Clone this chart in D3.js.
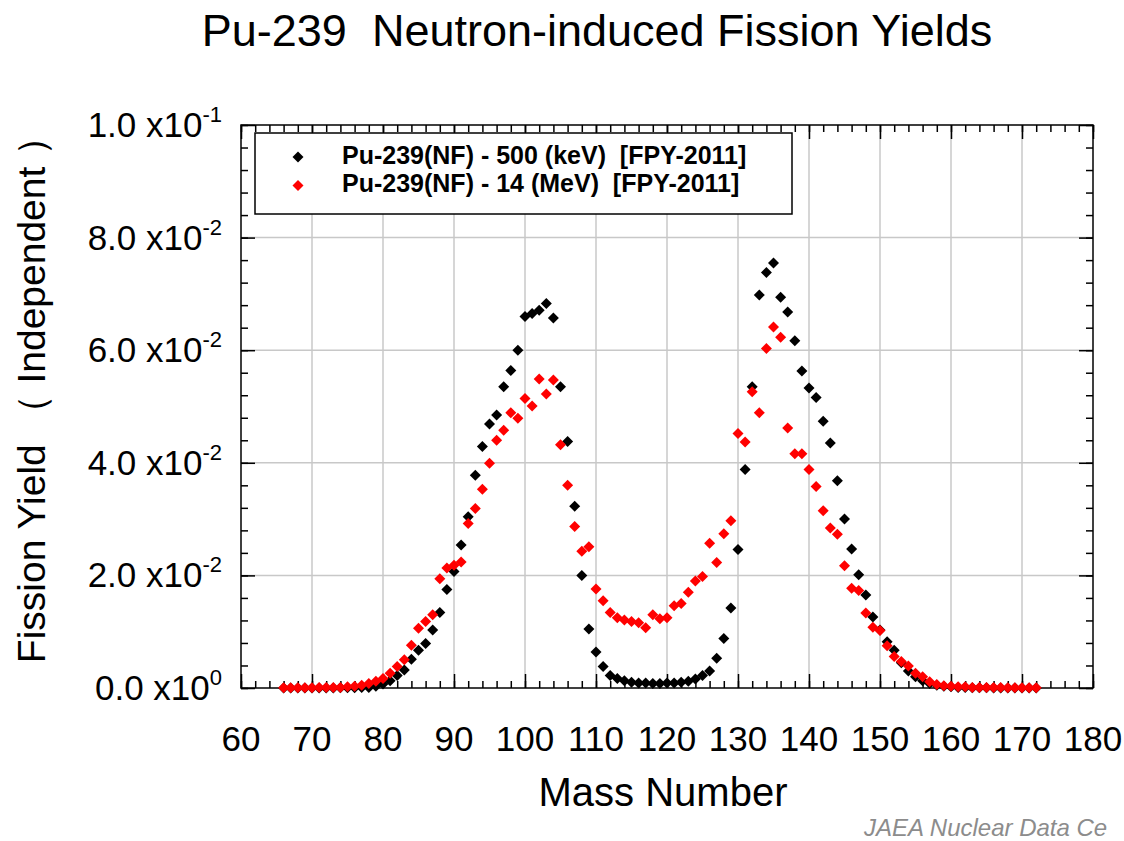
<!DOCTYPE html>
<html><head><meta charset="utf-8">
<script src="https://cdn.jsdelivr.net/npm/d3@7"></script>
<style>
html,body{margin:0;padding:0;background:#fff;overflow:hidden;}
svg{display:block;font-family:"Liberation Sans",Arial,sans-serif;}
svg text{white-space:pre;}
</style></head>
<body>
<svg id="c" width="1124" height="841"></svg>
<script>
const massStart = 66, massEnd = 172;
const massNumbers = d3.range(massStart, massEnd + 1);

// Pu-239(NF) - 500 keV, A = 66..172
const yield500keV = [
 0.00001,0.00001,0.00001,0.00001,0.00001,0.00001,0.00002,0.00002,0.00003,0.00004,0.00005,0.00007, // 66-77
 0.0001,0.0003,0.0007,0.0013,0.0022,0.0032,0.0051,0.0067,0.0079,0.0103,0.0134,0.0175, // 78-89
 0.0207,0.0254,0.0304,0.0378,0.0429,0.0469,0.0485,0.0535,0.0564,0.0600, // 90-99
 0.0660,0.0665,0.0671,0.0683,0.0657,0.0535,0.0438,0.0323,0.0200,0.0105, // 100-109
 0.0064,0.0038,0.0022,0.0017,0.0013,0.0010,0.0009,0.0009,0.0008,0.0008, // 110-119
 0.0009,0.0009,0.0010,0.0012,0.0016,0.0022,0.0030,0.0053,0.0088,0.0142, // 120-129
 0.0246,0.0388,0.0535,0.0698,0.0738,0.0755,0.0694,0.0668,0.0617,0.0563, // 130-139
 0.0533,0.0516,0.0474,0.0435,0.0368,0.0300,0.0247,0.0201,0.0165,0.0126, // 140-149
 0.0103,0.0082,0.0067,0.0045,0.0030,0.0020,0.0013,0.0008,0.0005,0.0003, // 150-159
 0.0002,0.0001,0.00008,0.00006,0.00004,0.00003,0.00002,0.00002,0.00001,0.00001,0.00001,0.00001,0.00001 // 160-172
];

// Pu-239(NF) - 14 MeV, A = 66..172
const yield14MeV = [
 0.00005,0.00005,0.00005,0.00006,0.00006,0.00007,0.00008,0.0001,0.0001,0.0002,0.0003,0.0005, // 66-77
 0.0008,0.0012,0.0017,0.0026,0.0038,0.0050,0.0076,0.0106,0.0118,0.0130,0.0194,0.0213, // 78-89
 0.0218,0.0224,0.0292,0.0319,0.0353,0.0399,0.0440,0.0458,0.0489,0.0479, // 90-99
 0.0514,0.0501,0.0549,0.0522,0.0547,0.0432,0.0360,0.0287,0.0243,0.0251, // 100-109
 0.0176,0.0155,0.0134,0.0125,0.0121,0.0118,0.0116,0.0107,0.0130,0.0123, // 110-119
 0.0125,0.0146,0.0150,0.0170,0.0190,0.0198,0.0257,0.0223,0.0274,0.0297, // 120-129
 0.0452,0.0437,0.0526,0.0489,0.0603,0.0641,0.0623,0.0462,0.0416,0.0416, // 130-139
 0.0388,0.0358,0.0315,0.0284,0.0273,0.0217,0.0177,0.0173,0.0133,0.0108, // 140-149
 0.0102,0.0075,0.0056,0.0047,0.0039,0.0026,0.0020,0.0011,0.0006,0.0004, // 150-159
 0.0003,0.0002,0.0002,0.0001,0.0001,0.0001,0.00008,0.00007,0.00006,0.00005,0.00005,0.00004,0.00004 // 160-172
];

const seriesNames = ["Pu-239(NF) - 500 (keV)  [FPY-2011]", "Pu-239(NF) - 14 (MeV)  [FPY-2011]"];
const seriesColors = ["#000000", "#ff0000"];
const xMajorTicks = d3.range(60, 181, 10);
const xMinorTicks = d3.range(60, 181, 2);
const yMajorTicks = [0, 0.02, 0.04, 0.06, 0.08, 0.1];
const yMinorTicks = d3.range(0, 0.1001, 0.004);
const yTickMantissa = ["0.0", "2.0", "4.0", "6.0", "8.0", "1.0"];
const yTickExponent = ["0", "-2", "-2", "-2", "-2", "-1"];

const svg = d3.select("#c");
const L = 241, R = 1093, T = 125, B = 688;
const x = d3.scaleLinear().domain([60, 180]).range([L, R]);
const y = d3.scaleLinear().domain([0, 0.1]).range([B, T]);

// grid
const grid = svg.append("g").attr("stroke", "#c8c8c8").attr("stroke-width", 1.5);
xMajorTicks.filter(d => d > 60 && d < 180).forEach(d => {
  grid.append("line").attr("x1", x(d)).attr("x2", x(d)).attr("y1", T).attr("y2", B);
});
yMajorTicks.filter(d => d > 0 && d < 0.1).forEach(d => {
  grid.append("line").attr("x1", L).attr("x2", R).attr("y1", y(d)).attr("y2", y(d));
});

// tick marks via axes (inward)
function tickAxis(axisFn, scale, vals, size, tr) {
  const g = svg.append("g").attr("transform", tr)
    .call(axisFn(scale).tickValues(vals).tickSize(-size).tickFormat(""));
  g.select(".domain").remove();
  g.selectAll("line").attr("stroke", "#000").attr("stroke-width", 1.5);
}
tickAxis(d3.axisBottom, x, xMinorTicks, 7, `translate(0,${B})`);
tickAxis(d3.axisBottom, x, xMajorTicks, 14, `translate(0,${B})`);
tickAxis(d3.axisTop, x, xMinorTicks, 7, `translate(0,${T})`);
tickAxis(d3.axisTop, x, xMajorTicks, 14, `translate(0,${T})`);
tickAxis(d3.axisLeft, y, yMinorTicks, 7, `translate(${L},0)`);
tickAxis(d3.axisLeft, y, yMajorTicks, 14, `translate(${L},0)`);
tickAxis(d3.axisRight, y, yMinorTicks, 7, `translate(${R},0)`);
tickAxis(d3.axisRight, y, yMajorTicks, 14, `translate(${R},0)`);

// frame
svg.append("rect").attr("x", L).attr("y", T).attr("width", R - L).attr("height", B - T)
  .attr("fill", "none").attr("stroke", "#000").attr("stroke-width", 1.5);

// x tick labels
svg.append("g").selectAll("text").data(xMajorTicks).join("text")
  .attr("x", d => x(d)).attr("y", B + 63).attr("text-anchor", "middle")
  .attr("font-size", 35).attr("fill", "#000").text(d => d);

// y tick labels
yMajorTicks.forEach((d, i) => {
  const t = svg.append("text").attr("x", 222).attr("y", y(d) + 12)
    .attr("text-anchor", "end").attr("font-size", 35).attr("fill", "#000");
  t.append("tspan").text(yTickMantissa[i] + " x10");
  t.append("tspan").attr("font-size", 22).attr("dy", -15).text(yTickExponent[i]);
});

// markers
const diamond = (cx, cy, s) => `M${cx},${cy - s}L${cx + s},${cy}L${cx},${cy + s}L${cx - s},${cy}Z`;
[yield500keV, yield14MeV].forEach((vals, si) => {
  svg.append("g").selectAll("path").data(massNumbers).join("path")
    .attr("d", (m, i) => diamond(x(m), y(vals[i]), 5.5))
    .attr("fill", seriesColors[si]);
});

// legend
svg.append("rect").attr("x", 255).attr("y", 133).attr("width", 537).attr("height", 81)
  .attr("fill", "#fff").attr("stroke", "#000").attr("stroke-width", 1.5);
seriesNames.forEach((n, i) => {
  const cy = 157 + i * 28.5;
  svg.append("path").attr("d", diamond(298, cy, 5.5)).attr("fill", seriesColors[i]);
  svg.append("text").attr("x", 342).attr("y", cy + 6.5).attr("font-size", 25)
    .attr("font-weight", "bold").attr("fill", "#000").text(n);
});

// titles
svg.append("text").attr("x", 597).attr("y", 46).attr("text-anchor", "middle")
  .attr("font-size", 45).attr("fill", "#000").text("Pu-239  Neutron-induced Fission Yields");
svg.append("text").attr("x", 663).attr("y", 806).attr("text-anchor", "middle")
  .attr("font-size", 40).attr("fill", "#000").text("Mass Number");
svg.append("text").attr("transform", `translate(45,${(112 + 668) / 2}) rotate(-90)`)
  .attr("text-anchor", "middle").attr("font-size", 39).attr("fill", "#000")
  .text("Fission Yield （ Independent ）");
svg.append("text").attr("x", 864).attr("y", 836).attr("font-size", 24)
  .attr("font-style", "italic").attr("fill", "#8c8c8c").text("JAEA Nuclear Data Ce");
</script>
</body></html>
